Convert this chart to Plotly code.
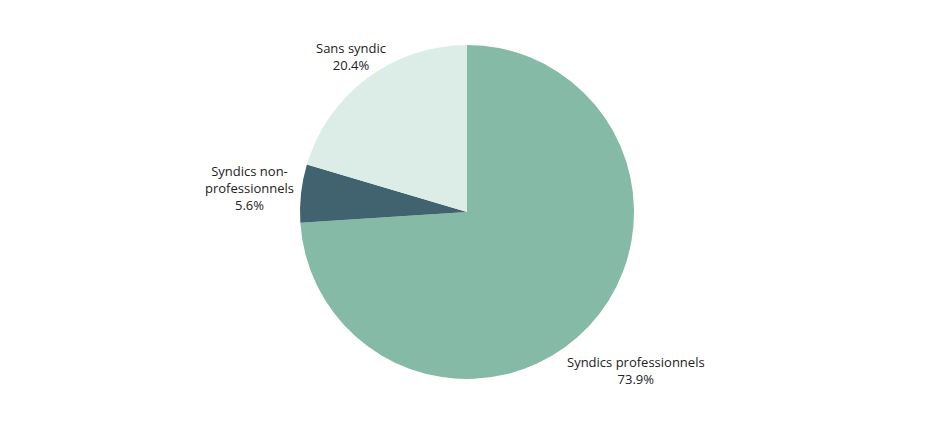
import math
import plotly.graph_objects as go

labels = ["Syndics professionnels", "Syndics non-<br>professionnels", "Sans syndic"]
values = [73.9, 5.6, 20.4]
colors = ["#85BAA6", "#41636F", "#DCEDE7"]

W, H = 935, 437
margin = dict(l=92, r=109, t=37, b=66)
plot_w = W - margin["l"] - margin["r"]
plot_h = H - margin["t"] - margin["b"]
radius = min(plot_w, plot_h) / 2
cx = margin["l"] + plot_w / 2
cy = margin["t"] + plot_h / 2

fig = go.Figure(go.Pie(
    labels=labels,
    values=values,
    sort=False,
    direction="clockwise",
    rotation=0,
    marker=dict(colors=colors, line=dict(width=0)),
    textinfo="none",
    hovertemplate="%{label}<br>%{value:.1f}%<extra></extra>",
    showlegend=False,
))

# labels sit outside the pie, pushed out along the middle of each slice
char_w, line_h = 6.35, 18
total = sum(values)
cum = 0
annotations = []
for lab, v in zip(labels, values):
    ang = math.radians((cum + v / 2) / total * 360)
    cum += v
    ux, uy = math.sin(ang), -math.cos(ang)
    text = f"{lab}<br>{v:.1f}%"
    lines = text.split("<br>")
    bw = max(len(s) for s in lines) * char_w
    bh = len(lines) * line_h
    d = radius - 5 + 1.25 * abs(ux) * bw / 2 + 0.45 * abs(uy) * bh / 2
    px, py = cx + ux * d, cy + uy * d
    annotations.append(dict(
        text=text,
        x=(px - margin["l"]) / plot_w,
        y=1 - (py - margin["t"]) / plot_h,
        xref="paper", yref="paper",
        xanchor="center", yanchor="middle",
        showarrow=False,
        font=dict(family="Open Sans", size=13, color="#222222"),
    ))

fig.update_layout(
    width=W,
    height=H,
    margin=margin,
    paper_bgcolor="white",
    plot_bgcolor="white",
    font=dict(family="Open Sans", size=13, color="#222222"),
    annotations=annotations,
)

fig.write_html("out.html")
